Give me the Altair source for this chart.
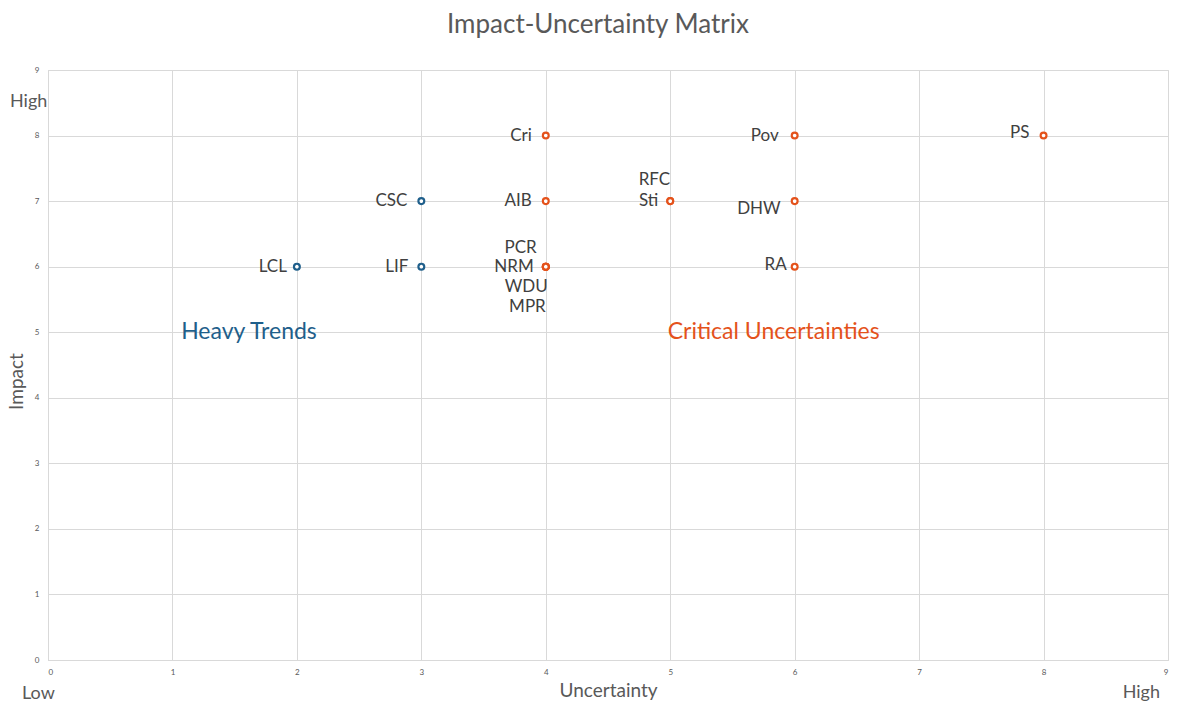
import altair as alt
import pandas as pd

# ---- data ----
labels = ["LCL", "LIF", "CSC", "Cri", "AIB", "PCR", "NRM", "WDU", "MPR",
          "RFC", "Sti", "Pov", "DHW", "RA", "PS"]
uncertainty = [2, 3, 3, 4, 4, 4, 4, 4, 4, 5, 5, 6, 6, 6, 8]
impact = [6, 6, 7, 8, 7, 6, 6, 6, 6, 7, 7, 8, 7, 6, 8]
group = ["Heavy Trends"] * 3 + ["Critical Uncertainties"] * 12

zone_names = ["Heavy Trends", "Critical Uncertainties"]
zone_x = [1.07, 4.98]
zone_y = [5, 5]

ticks = list(range(0, 10))

BLUE = "#1f5f8b"
ORANGE = "#e4521b"
GREY = "#595959"
FONT = "Lato"

W, H = 1120, 590
PAD_L, PAD_T = 40, 62

df = pd.DataFrame({"label": labels, "x": uncertainty, "y": impact, "group": group})
zones = pd.DataFrame({"name": zone_names, "x": zone_x, "y": zone_y})

xs = alt.Scale(domain=[0, 9], nice=False, zero=True)
ys = alt.Scale(domain=[0, 9], nice=False, zero=True)
color = alt.Color("group:N", scale=alt.Scale(domain=zone_names, range=[BLUE, ORANGE]), legend=None)

base = alt.Chart(df)

points = base.mark_point(shape="circle", filled=False, fill="white", size=34, strokeWidth=2.2, opacity=1).encode(
    x=alt.X("x:Q", scale=xs, axis=alt.Axis(
        values=ticks, format="d", title="Uncertainty", grid=True, gridColor="#d9d9d9",
        domainColor="#d9d9d9", ticks=False, labelFontSize=8, labelColor=GREY,
        labelPadding=8, labelFont=FONT, titleFont=FONT, titleFontSize=19,
        titleFontWeight="normal", titleColor=GREY, titlePadding=5)),
    y=alt.Y("y:Q", scale=ys, axis=alt.Axis(
        values=ticks, format="d", title="Impact", grid=True, gridColor="#d9d9d9",
        domainColor="#d9d9d9", ticks=False, labelFontSize=8, labelColor=GREY,
        labelPadding=9, labelFont=FONT, titleFont=FONT, titleFontSize=19,
        titleFontWeight="normal", titleColor=GREY, titleX=-22, titleY=H / 2 + 16)),
    color=color,
)

# label placement (style only)
offsets = {
    "LCL": (-10, 0), "LIF": (-13, 0), "CSC": (-14, 0), "Cri": (-14, 0),
    "AIB": (-14, 0), "PCR": (-9, -19), "NRM": (-12, 0), "WDU": (2, 20),
    "MPR": (0, 40), "RFC": (0, -21), "Sti": (-12, 0), "Pov": (-16, 0),
    "DHW": (-14, 8), "RA": (-8, -2), "PS": (-14, -3),
}

text_layers = []
for lab in labels:
    dx, dy = offsets[lab]
    text_layers.append(
        base.transform_filter(alt.datum.label == lab).mark_text(
            align="right", baseline="middle", dx=dx, dy=dy, fontSize=17,
            font=FONT, color="#404040").encode(
            x=alt.X("x:Q", scale=xs), y=alt.Y("y:Q", scale=ys), text="label:N")
    )

zone_text = alt.Chart(zones).mark_text(align="left", baseline="middle", fontSize=23, font=FONT).encode(
    x=alt.X("x:Q", scale=xs), y=alt.Y("y:Q", scale=ys), text="name:N",
    color=alt.Color("name:N", scale=alt.Scale(domain=zone_names, range=[BLUE, ORANGE]), legend=None),
)

title = alt.Chart(pd.DataFrame({"t": ["Impact-Uncertainty Matrix"]})).mark_text(
    fontSize=26, font=FONT, color=GREY, align="center", baseline="middle").encode(
    x=alt.value(550), y=alt.value(25 - 8 - PAD_T), text="t:N")

hi_left = alt.Chart(pd.DataFrame({"t": ["High"]})).mark_text(
    fontSize=18, font=FONT, color=GREY, align="left", baseline="middle").encode(
    x=alt.value(10 - 8 - PAD_L), y=alt.value(102 - 8 - PAD_T), text="t:N")
lo = alt.Chart(pd.DataFrame({"t": ["Low"]})).mark_text(
    fontSize=18, font=FONT, color=GREY, align="left", baseline="middle").encode(
    x=alt.value(22 - 8 - PAD_L), y=alt.value(694 - 8 - PAD_T), text="t:N")
hi_right = alt.Chart(pd.DataFrame({"t": ["High"]})).mark_text(
    fontSize=18, font=FONT, color=GREY, align="right", baseline="middle").encode(
    x=alt.value(1160 - 8 - PAD_L), y=alt.value(693 - 8 - PAD_T), text="t:N")

chart = alt.layer(points, *text_layers, zone_text, title, hi_left, lo, hi_right).properties(
    width=W, height=H,
    autosize=alt.AutoSizeParams(type="none"),
    padding={"left": PAD_L, "top": PAD_T, "right": 2, "bottom": 695 - PAD_T - H},
).configure_view(stroke=None).configure(background="white")

chart.save("out.html", embed_options={"renderer": "svg", "actions": False})
